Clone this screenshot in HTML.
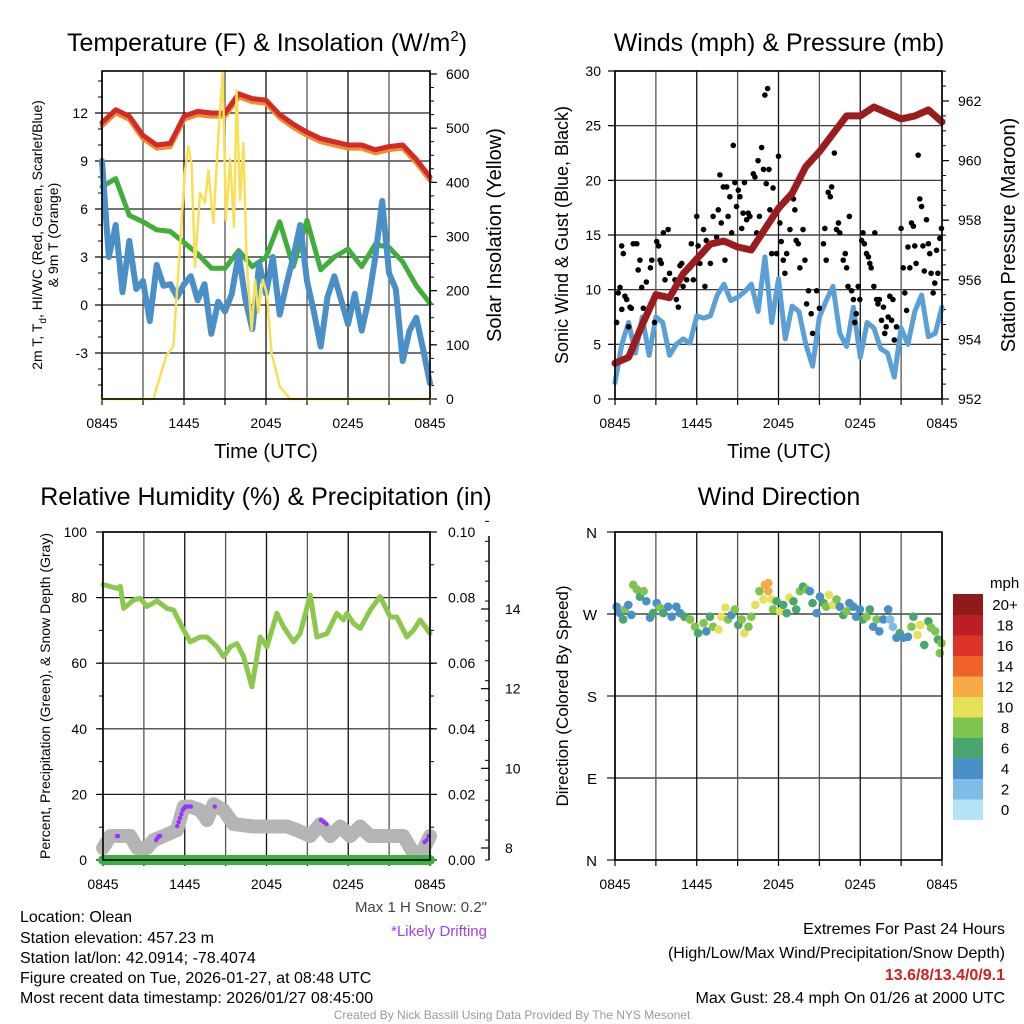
<!DOCTYPE html>
<html><head><meta charset="utf-8"><style>
html,body{margin:0;padding:0;background:#fff;}
svg{display:block;font-family:"Liberation Sans",sans-serif;}
</style></head><body>
<svg id="chart" width="1024" height="1024" viewBox="0 0 1024 1024" xmlns="http://www.w3.org/2000/svg">
<rect width="1024" height="1024" fill="#fff"/>
<text x="267" y="51" font-size="25" text-anchor="middle">Temperature (F) &amp; Insolation (W/m<tspan font-size="15" dy="-10">2</tspan><tspan dy="10">)</tspan></text>
<text x="779" y="51" font-size="25" text-anchor="middle">Winds (mph) &amp; Pressure (mb)</text>
<text x="266" y="505" font-size="25" text-anchor="middle">Relative Humidity (%) &amp; Precipitation (in)</text>
<text x="779" y="505" font-size="25" text-anchor="middle">Wind Direction</text>
<text x="266" y="458" font-size="20" text-anchor="middle">Time (UTC)</text>
<text x="779" y="458" font-size="20" text-anchor="middle">Time (UTC)</text>
<text transform="translate(42,235) rotate(-90)" font-size="14" text-anchor="middle">2m T, T<tspan font-size="10" dy="4">d</tspan><tspan dy="-4">, HI/WC (Red, Green, Scarlet/Blue)</tspan></text>
<text transform="translate(58,235) rotate(-90)" font-size="14" text-anchor="middle">&amp; 9m T (Orange)</text>
<text transform="translate(501,235) rotate(-90)" font-size="20" text-anchor="middle">Solar Insolation (Yellow)</text>
<text transform="translate(568,235) rotate(-90)" font-size="18" text-anchor="middle">Sonic Wind &amp; Gust (Blue, Black)</text>
<text transform="translate(1015,235) rotate(-90)" font-size="20" text-anchor="middle">Station Pressure (Maroon)</text>
<text transform="translate(50,696) rotate(-90)" font-size="14" text-anchor="middle">Percent, Precipitation (Green), &amp; Snow Depth (Gray)</text>
<text transform="translate(568,696) rotate(-90)" font-size="17" text-anchor="middle">Direction (Colored By Speed)</text>
<text x="487" y="912" font-size="15" text-anchor="end" fill="#444">Max 1 H Snow: 0.2"</text>
<text x="487" y="936" font-size="15" text-anchor="end" fill="#a040f0">*Likely Drifting</text>
<g font-size="16">
<text x="20" y="922">Location: Olean</text>
<text x="20" y="943">Station elevation: 457.23 m</text>
<text x="20" y="963">Station lat/lon: 42.0914; -78.4074</text>
<text x="20" y="983">Figure created on Tue, 2026-01-27, at 08:48 UTC</text>
<text x="20" y="1003">Most recent data timestamp: 2026/01/27 08:45:00</text>
</g>
<g font-size="16" text-anchor="end">
<text x="1005" y="934">Extremes For Past 24 Hours</text>
<text x="1005" y="958">(High/Low/Max Wind/Precipitation/Snow Depth)</text>
<text x="1005" y="980" fill="#d02020" font-weight="bold">13.6/8/13.4/0/9.1</text>
<text x="1005" y="1003">Max Gust: 28.4 mph On 01/26 at 2000 UTC</text>
</g>
<text x="512" y="1019" font-size="12" text-anchor="middle" fill="#999">Created By Nick Bassill Using Data Provided By The NYS Mesonet</text>
<text x="990" y="588" font-size="15">mph</text>
</svg>
<script>
// ---------- data ----------
const hourTimes = [0,1,2,3,4,5,6,7,8,9,10,11,12,13,14,15,16,17,18,19,20,21,22,23,24];
const xTickLabels = ["0845","1445","2045","0245","0845"];
const tempRed = [11.4,12.2,11.8,10.6,10.0,10.1,11.8,12.1,12.0,12.0,13.2,12.9,12.8,11.9,11.3,10.8,10.4,10.2,10.0,10.0,9.7,9.9,10.0,9.1,8.0];
const tempOrange = [11.3,12.1,11.7,10.5,9.9,10.0,11.7,12.0,11.9,11.9,13.1,12.8,12.7,11.8,11.2,10.7,10.3,10.1,9.9,9.9,9.6,9.8,9.9,9.0,7.9];
const tempGreen = [7.4,7.9,5.6,5.2,4.7,4.6,3.9,3.2,2.3,2.3,3.4,2.4,3.0,5.2,2.4,5.3,2.2,3.0,3.5,2.4,3.8,3.6,2.7,1.2,0.1];
const halfTimes = [0,0.5,1,1.5,2,2.5,3,3.5,4,4.5,5,5.5,6,6.5,7,7.5,8,8.5,9,9.5,10,10.5,11,11.5,12,12.5,13,13.5,14,14.5,15,15.5,16,16.5,17,17.5,18,18.5,19,19.5,20,20.5,21,21.5,22,22.5,23,23.5,24];
const tempBlue = [9.0,3.0,5.0,0.8,4.0,1.0,1.5,-1.0,2.5,1.2,1.3,0.5,1.3,1.8,0.3,1.3,-1.8,0.2,-0.4,0.7,3.2,0.3,-1.5,2.6,0.7,3.0,-0.6,1.3,3.0,5.0,1.5,-0.4,-2.6,0.5,1.8,0.3,-1.2,0.7,-1.6,0.3,3.0,6.5,2.0,1.0,-3.5,-1.6,-0.8,-2.8,-4.9];
const solarTimes = [0,3.76,4.24,4.73,5.22,5.71,6.07,6.32,6.56,6.80,7.17,7.54,7.78,8.15,8.51,8.83,9.07,9.37,9.66,9.85,10.1,10.34,10.59,10.95,11.2,11.44,11.76,12.05,12.41,13.02,13.76,24];
const solarValues = [0,0,41,81,97,281,422,466,432,244,380,362,422,325,484,602,330,443,318,570,367,472,251,127,220,159,220,196,85,23,0,0];
const tempTicks = [-3,0,3,6,9,12];
const solarTicks = [0,100,200,300,400,500,600];

const pressure = [953.2,953.4,954.5,955.5,955.4,956.2,956.7,957.2,957.3,957.1,957.0,957.7,958.4,958.9,959.8,960.3,960.9,961.5,961.5,961.8,961.6,961.4,961.5,961.7,961.3];
const sonicWind = [1.5,5.0,7.0,4.2,7.5,4.0,7.5,7.0,4.0,5.0,5.5,5.1,7.6,7.4,7.6,9.5,10.5,9.0,9.3,9.8,10.5,8.0,13.0,7.0,11.0,5.5,8.5,8.0,5.0,3.0,7.5,9.0,10.3,6.0,4.8,8.4,3.8,7.0,6.5,4.6,4.2,2.0,6.5,5.0,8.0,9.5,5.7,6.0,8.4];
const gustTimes = [0.12,0.24,0.37,0.49,0.61,0.5,0.73,0.86,1.0,1.1,1.2,1.34,1.6,1.7,1.83,1.96,2.08,2.3,2.6,2.7,2.9,3.06,3.2,3.3,3.4,3.55,3.67,3.9,4.0,4.16,4.4,4.5,4.65,4.77,4.9,5.0,5.26,5.5,5.6,5.75,5.87,6.0,6.1,6.23,6.5,6.6,6.7,7.0,7.2,7.46,7.58,7.7,7.8,7.95,8.07,8.2,8.3,8.43,8.56,8.68,8.8,8.92,9.05,9.17,9.3,9.4,9.5,9.66,9.78,9.9,10.15,10.27,10.4,10.5,10.6,10.76,10.9,11.0,11.2,11.1,11.3,11.37,11.5,11.6,11.86,12.0,12.1,12.2,12.35,12.47,12.6,12.84,13.1,13.2,13.3,13.45,13.57,13.8,13.94,14.06,14.2,14.4,14.5,14.8,15.0,15.3,15.4,15.5,15.65,15.8,15.9,16.1,16.26,16.4,16.5,16.75,16.9,17.0,17.1,17.2,17.36,17.5,17.6,17.7,17.85,17.97,18.1,18.2,18.3,18.46,18.6,18.7,18.8,19.0,19.07,19.2,19.3,19.4,19.56,19.7,19.8,19.9,20.05,20.17,20.3,20.4,20.5,20.66,21.0,21.15,21.27,21.4,21.5,21.64,21.76,21.9,22.0,22.1,22.25,22.37,22.5,22.6,22.7,22.86,23.0,23.1,23.2,23.35,23.47,23.6,23.7,23.84,23.96];
const gustValues = [7.0,9.7,10.2,14.0,13.3,8.2,9.4,9.1,6.6,8.4,8.3,14.2,14.2,11.8,12.7,10.2,8.3,10.7,12.0,12.7,7.0,14.4,14.0,12.7,12.4,15.2,10.9,15.5,11.5,9.7,10.9,9.1,8.4,12.2,12.4,10.3,10.9,12.0,14.2,10.9,12.7,16.7,14.0,12.4,15.5,10.3,14.5,12.4,16.7,14.8,17.3,20.5,16.1,19.4,12.7,19.4,16.7,18.5,15.2,23.2,19.8,17.6,19.1,18.5,15.6,17.0,19.8,16.4,17.0,16.7,20.6,20.3,15.2,21.8,16.7,23.0,21.0,27.8,28.4,19.7,21.0,17.3,13.3,19.3,13.3,22.2,16.1,14.4,12.7,11.5,13.3,15.5,18.3,17.3,14.5,14.2,12.0,15.5,12.7,8.7,9.9,7.8,6.0,9.9,8.3,14.2,15.6,12.7,18.9,18.5,19.4,22.5,15.5,16.1,15.2,12.7,13.3,12.0,10.3,16.7,9.9,9.1,7.0,7.8,10.3,9.1,14.5,15.2,14.2,13.3,13.0,12.4,12.0,10.3,15.2,9.1,8.7,9.1,7.2,8.4,6.0,6.6,7.5,9.4,7.2,9.1,5.4,6.6,15.6,12.0,9.7,8.1,13.9,12.0,16.1,15.8,14.0,12.4,22.3,18.3,17.6,14.0,11.7,16.4,14.2,13.3,11.5,9.7,10.6,13.6,11.5,14.7,15.6];
const windTicks = [0,5,10,15,20,25,30];
const pressureTicks = [952,954,956,958,960,962];

const rhTimes = [0,1.03,1.27,1.52,2.25,2.74,3.23,3.96,4.69,5.18,5.92,6.41,7.14,7.63,8.36,8.85,9.34,9.83,10.32,10.93,11.54,12.03,12.76,13.25,13.99,14.47,15.21,15.7,16.43,17.16,17.65,17.9,18.39,18.88,19.61,20.34,21.08,21.56,22.3,22.79,23.28,24];
const rhValues = [84,82.8,83.4,76.7,79.3,79.8,77.3,79,76.7,76.2,70.1,66.5,68,68,65,62,65,66,62,52.8,68,65,75.2,71.1,66.5,69.1,80.8,68,69,75.2,73.2,75.2,72.1,70.6,76.2,80.3,74.1,74.1,68,70.1,73.2,69.1];
const snowTimes = [0,0.54,1.03,2.0,2.5,3.23,3.72,4.45,5.43,5.92,6.41,7.14,7.63,8.12,8.85,9.58,11.05,13.5,14.23,15.21,15.94,16.68,17.41,18.14,18.88,19.61,22.05,22.79,23.28,24];
const snowDepth = [8.0,8.3,8.3,8.3,8.0,8.0,8.2,8.3,8.45,9.04,9.04,8.95,8.7,9.1,8.95,8.6,8.54,8.54,8.45,8.3,8.6,8.3,8.54,8.3,8.54,8.3,8.3,7.87,7.8,8.3];
const driftTimes = [1.03,1.1,3.9,4.0,4.1,4.2,5.45,5.55,5.65,5.75,5.85,5.95,6.05,6.15,6.3,6.45,8.2,16.0,16.2,16.4,23.6,23.75,23.9];
const driftDepth = [8.3,8.3,8.2,8.25,8.3,8.3,8.55,8.65,8.75,8.85,8.95,9.0,9.04,9.04,9.04,9.04,9.04,8.7,8.65,8.6,8.15,8.2,8.3];
const precipTimes = [0,24];
const precipValues = [0,0];
const rhTicks = [0,20,40,60,80,100];
const precipTickLabels = ["0.00","0.02","0.04","0.06","0.08","0.10"];
const snowTicks = [8,10,12,14];

const dirTimes = [0.12,0.37,0.6,0.73,0.98,1.2,1.34,1.6,1.83,2.1,2.3,2.57,2.8,3.06,3.3,3.55,3.9,4.16,4.5,4.77,5.1,5.5,5.87,6.1,6.5,6.7,6.97,7.2,7.6,7.8,8.1,8.3,8.55,8.8,9.05,9.3,9.5,9.8,10.0,10.3,10.6,10.9,11.0,11.25,11.25,11.5,11.6,11.86,12.1,12.35,12.6,12.8,13.1,13.3,13.57,13.8,14.06,14.3,14.5,14.8,15.04,15.3,15.5,15.7,16.0,16.26,16.5,16.75,17.0,17.2,17.5,17.7,17.97,18.2,18.46,18.7,18.95,19.2,19.4,19.7,20.05,20.2,20.4,20.66,20.9,21.15,21.5,21.76,21.9,22.2,22.4,22.7,23.0,23.2,23.5,23.7,23.84,23.96];
const dirValues = [278,271,264,275,280,269,302,297,289,295,284,266,271,282,277,271,278,267,278,271,267,264,256,249,260,251,267,256,253,267,277,264,269,275,258,264,249,256,267,280,295,286,302,304,295,286,275,284,273,280,271,288,284,275,295,300,297,295,282,271,289,282,278,291,280,286,278,269,273,282,278,267,275,264,267,275,256,264,251,264,275,264,256,244,249,244,245,256,267,247,258,236,262,255,251,242,227,238];
const dirSpeeds = [4,4,6,8,4,4,8,8,6,8,4,4,6,4,8,6,4,4,4,4,6,8,8,6,8,4,6,8,10,10,10,8,4,8,6,8,10,8,8,10,8,10,12,12,12,10,8,6,10,6,6,10,6,6,8,6,8,4,6,4,4,6,8,10,10,8,4,6,8,4,4,4,4,6,8,6,4,8,4,4,4,2,2,4,6,4,4,8,6,10,10,6,6,8,8,6,8,8];
const dirTicks = ["N","E","S","W","N"];
const speedBins = ["0","2","4","6","8","10","12","14","16","18","20+"];
const speedColors = ["#b5e3f7","#80bde6","#4a8fc8","#4aa66f","#7fc44c","#e6e159","#f6a945","#f0622c","#dd3429","#bb1f25","#8f1a1a"];

// ---------- helpers ----------
const svg = document.getElementById('chart');
const NS = 'http://www.w3.org/2000/svg';
function mk(tag, attrs, parent){
  const e = document.createElementNS(NS, tag);
  for (const k in attrs) e.setAttribute(k, attrs[k]);
  (parent || svg).appendChild(e);
  return e;
}
function lin(d0,d1,r0,r1){ return v => r0 + (v-d0)*(r1-r0)/(d1-d0); }
function pathD(xs, ys, fx, fy){
  return xs.map((t,i)=>(i?'L':'M')+fx(t).toFixed(1)+','+fy(ys[i]).toFixed(1)).join('');
}
function drawLine(xs, ys, fx, fy, color, w, name){
  const p = mk('path', {d:pathD(xs,ys,fx,fy), fill:'none', stroke:color, 'stroke-width':w, 'stroke-linejoin':'round', 'stroke-linecap':'round'});
  
  
  return p;
}
function txt(x,y,s,anchor,size,name){
  const t = mk('text', {x:x, y:y, 'font-size':size, 'text-anchor':anchor});
  t.textContent = s;
  
  
  return t;
}
function hline(x0,x1,y,color,w,name){
  const l = mk('line',{x1:x0,x2:x1,y1:y,y2:y,stroke:color,'stroke-width':w});
  
  
}
function vline(x,y0,y1,color,w,name){
  const l = mk('line',{x1:x,x2:x,y1:y0,y2:y1,stroke:color,'stroke-width':w});
  
  
}
function timeGrid(x0,x1,y0,y1,fx){
  for (let h=0; h<=24; h+=3){
    vline(fx(h), y0, y1, h%6===0?'#111':'#555', 1.3, 'time-gridline');
    vline(fx(h), y1, y1+6, '#000', 1.2, 'x-tick');
  }
  xTickLabels.forEach((s,i)=>txt(fx(i*6), y1+29, s, 'middle', 14, 'x-tick-label'));
}
function frame(x0,x1,y0,y1,name){
  const r = mk('rect',{x:x0,y:y0,width:x1-x0,height:y1-y0,fill:'none',stroke:'#000','stroke-width':1.6});
  
  
}

// ---------- panel 1 ----------
{
  const X0=102,X1=430,Y0=71,Y1=399;
  const fx = lin(0,24,X0,X1);
  const fy = lin(0,12,305,113);
  const fs = lin(0,600,399,74);
  tempTicks.forEach(v=>{
    hline(X0,X1,fy(v),'#222',1.2,'temp-gridline');
    hline(X0-7,X0,fy(v),'#000',1.2,'temp-tick');
    txt(X0-14,fy(v)+5,String(v),'end',14,'temp-tick-label');
  });
  for (let v=-5; v<=14; v++) hline(X0-4,X0,fy(v),'#000',1,'temp-minor-tick');
  solarTicks.forEach(v=>{
    hline(X1,X1+7,fs(v),'#000',1.2,'solar-tick');
    txt(X1+16,fs(v)+5,String(v),'start',14,'solar-tick-label');
  });
  for (let v=0; v<=600; v+=25) hline(X1,X1+4,fs(v),'#000',1,'solar-minor-tick');
  timeGrid(X0,X1,Y0,Y1,fx);
  drawLine(hourTimes,tempOrange,fx,v=>fy(v)+1.5,'#f28a30',5,'orange-9m-temp-line');
  drawLine(hourTimes,tempRed,fx,fy,'#d42a26',5,'red-2m-temp-line');
  drawLine(hourTimes,tempGreen,fx,fy,'#3fae3a',5,'green-dewpoint-line');
  drawLine(halfTimes,tempBlue,fx,fy,'#4a8fc8',6,'blue-windchill-line');
  drawLine(solarTimes,solarValues,fx,fs,'#f8e055',2.5,'yellow-insolation-line');
  frame(X0,X1,Y0,Y1,'temp-plot-frame');
}

// ---------- panel 2 ----------
{
  const X0=615,X1=942,Y0=71,Y1=399;
  const fx = lin(0,24,X0,X1);
  const fy = lin(0,30,399,71);
  const fp = lin(952,962,399,101);
  windTicks.forEach(v=>{
    hline(X0,X1,fy(v),'#222',1.2,'wind-gridline');
    hline(X0-7,X0,fy(v),'#000',1.2,'wind-tick');
    txt(X0-14,fy(v)+5,String(v),'end',14,'wind-tick-label');
  });
  pressureTicks.forEach(v=>{
    hline(X1,X1+7,fp(v),'#000',1.2,'pressure-tick');
    txt(X1+16,fp(v)+5,String(v),'start',14,'pressure-tick-label');
  });
  for (let v=952; v<=963; v+=0.5) hline(X1,X1+4,fp(v),'#000',1,'pressure-minor-tick');
  timeGrid(X0,X1,Y0,Y1,fx);
  drawLine(halfTimes,sonicWind,fx,fy,'#5a9fd6',5,'sonic-wind-line');
  gustTimes.forEach((t,i)=>{
    const c = mk('circle',{cx:fx(t),cy:fy(gustValues[i]),r:2.8,fill:'#000'});
    
    
  });
  drawLine(hourTimes,pressure,fx,fp,'#9b1c1c',7,'pressure-line');
  frame(X0,X1,Y0,Y1,'winds-plot-frame');
}

// ---------- panel 3 ----------
{
  const X0=103,X1=430,Y0=532,Y1=860;
  const fx = lin(0,24,X0,X1);
  const fy = lin(0,100,860,532);
  const fsn = lin(8,14,848,609);
  rhTicks.forEach((v,i)=>{
    hline(X0,X1,fy(v),'#222',1.2,'rh-gridline');
    hline(X0-7,X0,fy(v),'#000',1.2,'rh-tick');
    txt(X0-16,fy(v)+5,String(v),'end',14,'rh-tick-label');
    hline(X1,X1+7,fy(v),'#000',1.2,'precip-tick');
    txt(X1+18,fy(v)+5,precipTickLabels[i],'start',14,'precip-tick-label');
  });
  for (let v=0; v<=100; v+=10){ hline(X0-4,X0,fy(v),'#000',1,'rh-minor-tick'); hline(X1,X1+4,fy(v),'#000',1,'precip-minor-tick'); }
  vline(489,536,860,'#000',1.5,'snow-axis-line');
  snowTicks.forEach(v=>{
    hline(481,489,fsn(v),'#000',1.2,'snow-tick');
    txt(505,fsn(v)+5,String(v),'start',14,'snow-tick-label');
  });
  for (let v=7.7; v<=16.2; v+=0.5) hline(485,489,fsn(v),'#000',1,'snow-minor-tick');
  timeGrid(X0,X1,Y0,Y1,fx);
  drawLine(rhTimes,rhValues,fx,fy,'#8cc84b',5,'rh-line');
  drawLine(snowTimes,snowDepth,fx,fsn,'#b5b5b5',14,'snow-depth-line');
  driftTimes.forEach((t,i)=>{
    const c = mk('circle',{cx:fx(t),cy:fsn(driftDepth[i]),r:2.2,fill:'#9b30ff'});
    
    
  });
  drawLine(precipTimes,precipValues,fx,v=>fy(v*1000),'#3cb043',10,'precip-line');
  frame(X0,X1,Y0,Y1,'rh-plot-frame');
}

// ---------- panel 4 ----------
{
  const X0=615,X1=942,Y0=532,Y1=860;
  const fx = lin(0,24,X0,X1);
  const fy = lin(0,360,860,532);
  dirTicks.forEach((s,i)=>{
    hline(X0-8,X1,fy(i*90),'#222',1.2,'direction-gridline');
    txt(X0-18,fy(i*90)+6,s,'end',15,'direction-tick-label');
  });
  timeGrid(X0,X1,Y0,Y1,fx);
  dirTimes.forEach((t,i)=>{
    const idx = Math.min(10, Math.max(0, Math.round(dirSpeeds[i]/2)));
    const c = mk('circle',{cx:fx(t),cy:fy(dirValues[i]),r:4.3,fill:speedColors[idx]});
    
    
  });
  frame(X0,X1,Y0,Y1,'direction-plot-frame');
  const bh = 20.5, top = 594;
  speedBins.forEach((s,i)=>{
    const r = mk('rect',{x:953,y:top+(10-i)*bh,width:30,height:bh+0.5,fill:speedColors[i]});
    
    
    txt(1005,top+(10-i)*bh+16,s,'middle',15,'speed-legend-label');
  });
}
</script>
</body></html>
